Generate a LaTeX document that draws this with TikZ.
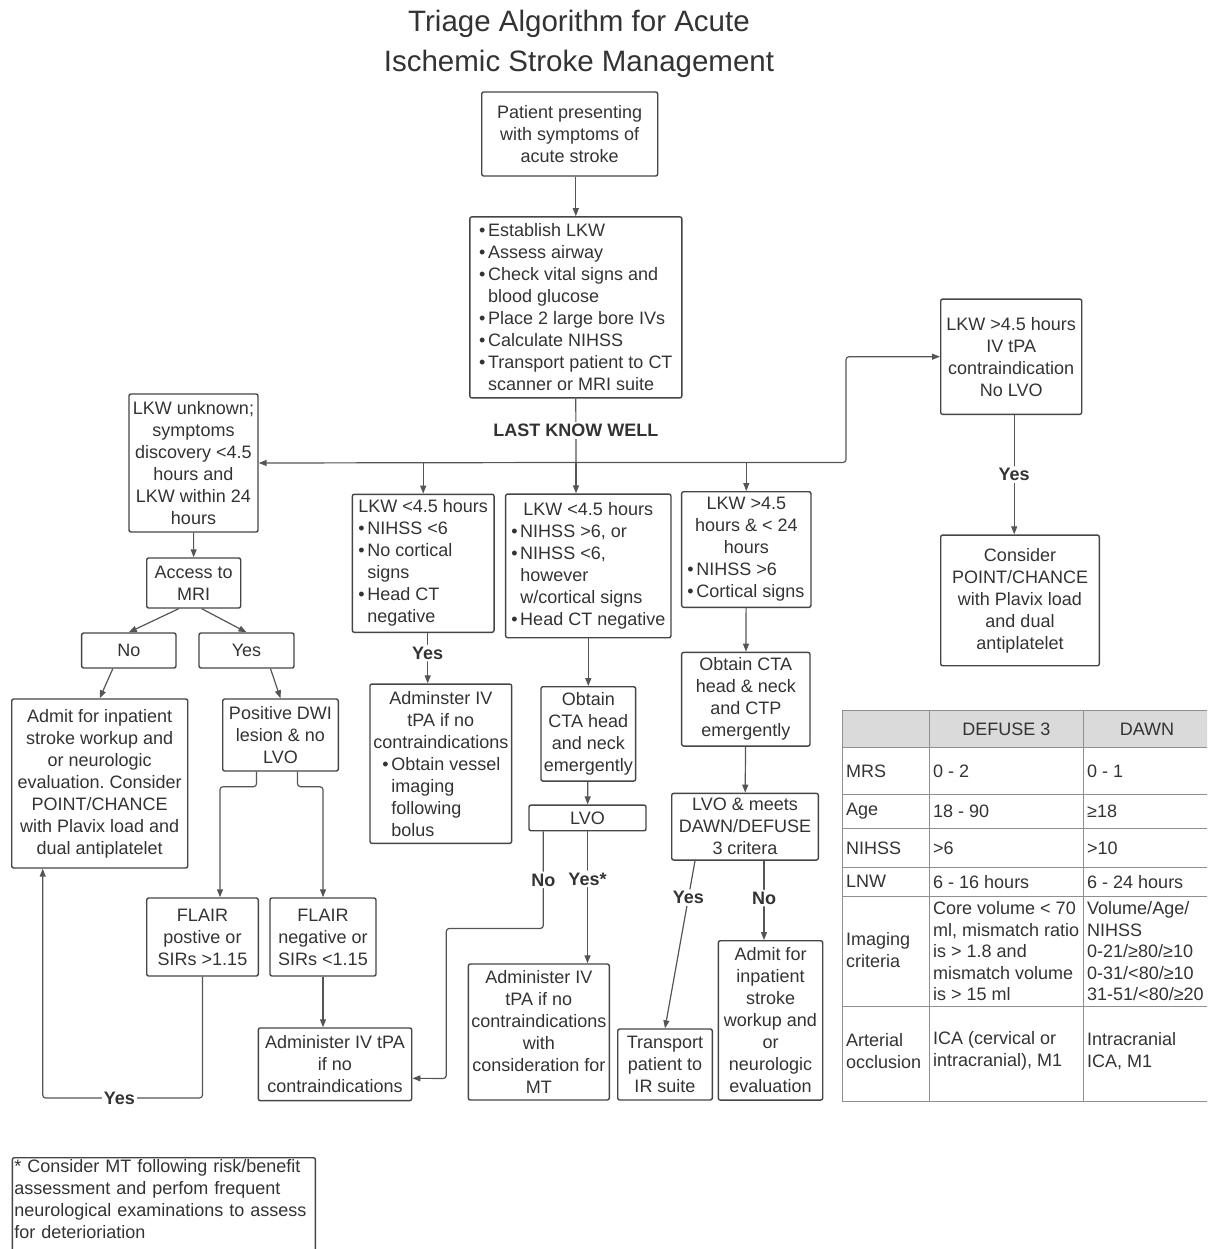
\documentclass[tikz,border=0pt]{standalone}
\usepackage{fontspec}
\setmainfont{Liberation Sans}
\usetikzlibrary{arrows.meta}
\definecolor{ink}{HTML}{333333}
\definecolor{edge}{HTML}{454545}
\definecolor{wire}{HTML}{555555}
\definecolor{rule}{HTML}{8F8F8F}
\definecolor{head}{HTML}{DADADA}
\newcommand{\bul}{\makebox[9pt][l]{\textbullet}}
\newcommand{\ind}{\hspace*{9pt}}
\frenchspacing

\begin{document}
\begin{tikzpicture}[x=1pt,y=-1pt]
    \tikzstyle{every node}+=[inner sep=0pt, text=ink, font=\fontsize{18}{22}\selectfont]
    \tikzstyle{box}=[draw=edge, line width=1.4pt, rounded corners=2pt, align=center]
    \tikzstyle{arr}=[draw=wire, line width=1.2pt, rounded corners=3pt, -{Triangle[length=8pt,width=6pt]}]
    \tikzstyle{lbl}=[fill=white, inner sep=2pt, font=\fontsize{18}{22}\selectfont\bfseries]
    \tikzstyle{cell}=[anchor=west, align=left, font=\fontsize{18}{21.5}\selectfont]
    \tikzstyle{rl}=[draw=rule, line width=1pt]
    \useasboundingbox (0,0) rectangle (1207,1249);
    \clip (0,0) rectangle (1207,1249);
    \node[align=center, font=\fontsize{29.5}{40}\selectfont] (title) at (579,44) {Triage Algorithm for Acute\\Ischemic Stroke Management};
    \node[box, minimum width=176pt, minimum height=84pt] (patient) at (569.7,134) {Patient presenting\\with symptoms of\\acute stroke};
    \node[box, align=left, minimum width=212pt, minimum height=181pt] (assess) at (575.8,307.4) {\bul Establish LKW\\\bul Assess airway\\\bul Check vital signs and\\\ind blood glucose\\\bul Place 2 large bore IVs\\\bul Calculate NIHSS\\\bul Transport patient to CT\\\ind scanner or MRI suite};
    \node[box, minimum width=129pt, minimum height=138pt] (unknown) at (193.5,463) {LKW unknown;\\symptoms\\discovery <4.5\\hours and\\LKW within 24\\hours};
    \node[box, minimum width=94pt, minimum height=50pt] (mri) at (193.7,583) {Access to\\MRI};
    \node[box, minimum width=94.3pt, minimum height=35pt] (no) at (128.8,650.5) {No};
    \node[box, minimum width=95pt, minimum height=35pt] (yes) at (246.5,650.5) {Yes};
    \node[box, minimum width=176pt, minimum height=169pt] (admitL) at (99.7,783.5) {Admit for inpatient\\stroke workup and\\or neurologic\\evaluation. Consider\\POINT/CHANCE\\with Plavix load and\\dual antiplatelet};
    \node[box, minimum width=115.6pt, minimum height=72pt] (dwi) at (280.5,735) {Positive DWI\\lesion \& no\\LVO};
    \node[box, minimum width=111.6pt, minimum height=78pt] (flairpos) at (202.5,937) {FLAIR\\postive or\\SIRs >1.15};
    \node[box, minimum width=106pt, minimum height=78pt] (flairneg) at (323,937) {FLAIR\\negative or\\SIRs <1.15};
    \node[box, minimum width=153.4pt, minimum height=72.7pt] (tpaL) at (335,1064.3) {Administer IV tPA\\if no\\contraindications};
    \node[box, align=left, minimum width=141.7pt, minimum height=138pt] (lkwA) at (423.2,563.3) {LKW <4.5 hours\\\bul NIHSS <6\\\bul No cortical\\\ind signs\\\bul Head CT\\\ind negative};
    \node[box, minimum width=141.7pt, minimum height=159.3pt] (tpaA) at (440.8,763.7) {Adminster IV\\tPA if no\\contraindications\\\makebox[135pt][l]{\hspace*{9pt}\bul Obtain vessel}\\\makebox[135pt][l]{\hspace*{18pt}imaging}\\\makebox[135pt][l]{\hspace*{18pt}following}\\\makebox[135pt][l]{\hspace*{18pt}bolus}};
    \node[box, align=left, minimum width=165.3pt, minimum height=143.7pt] (lkwB) at (588.3,565.9) {\makebox[154pt]{LKW <4.5 hours}\\\bul NIHSS >6, or\\\bul NIHSS <6,\\\ind however\\\ind w/cortical signs\\\bul Head CT negative};
    \node[box, minimum width=94.7pt, minimum height=94.3pt] (ctaB) at (588.3,733.9) {Obtain\\CTA head\\and neck\\emergently};
    \node[box, minimum width=117pt, minimum height=25.7pt] (lvoB) at (587.5,817.9) {LVO};
    \node[box, minimum width=141pt, minimum height=136pt] (tpaB) at (538.8,1032) {Administer IV\\tPA if no\\contraindications\\with\\consideration for\\MT};
    \node[box, align=left, minimum width=129.3pt, minimum height=115.6pt] (lkwC) at (746.3,549.5) {\makebox[118pt]{LKW >4.5}\\\makebox[118pt]{hours \& < 24}\\\makebox[118pt]{hours}\\\bul NIHSS >6\\\bul Cortical signs};
    \node[box, minimum width=128.3pt, minimum height=93.7pt] (ctaC) at (745.8,699.2) {Obtain CTA\\head \& neck\\and CTP\\emergently};
    \node[box, minimum width=146.6pt, minimum height=66.7pt] (lvoC) at (745,826.7) {LVO \& meets\\DAWN/DEFUSE\\3 critera};
    \node[box, minimum width=94.6pt, minimum height=71pt] (irC) at (665,1064.5) {Transport\\patient to\\IR suite};
    \node[box, minimum width=104.4pt, minimum height=159.3pt] (admitC) at (770.5,1020.4) {Admit for\\inpatient\\stroke\\workup and\\or\\neurologic\\evaluation};
    \node[box, minimum width=141pt, minimum height=115.3pt] (late) at (1011.2,356.7) {LKW >4.5 hours\\IV tPA\\contraindication\\No LVO};
    \node[box, minimum width=158.6pt, minimum height=130.7pt] (point) at (1020,600.4) {Consider\\POINT/CHANCE\\with Plavix load\\and dual\\antiplatelet};
    \node[box, anchor=north west, align=left, text width=299pt, inner xsep=2pt, inner ysep=2pt] (note) at (11.7,1157) {* Consider MT following risk/benefit\\assessment and perfom frequent\\neurological examinations to assess\\for deterioriation\\\mbox{}};
    \coordinate (split) at (576,462.5);
    \coordinate (yturn) at (42.7,1098);
    \draw[arr] (assess.north |- patient.south) -- (assess.north);
    \draw[draw=wire, line width=1.2pt] (assess.south) -- node[lbl]{LAST KNOW WELL} (split);
    \draw[arr] (split) -- (unknown.east);
    \draw[arr] (lkwA.north |- split) -- (lkwA.north);
    \draw[arr] (split) -- (split |- lkwB.north);
    \draw[arr] (lkwC.north |- split) -- (lkwC.north);
    \draw[arr] (split) -- ++(270,0) |- (late.west);
    \draw[arr] (unknown) -- (mri);
    \draw[arr] ([xshift=-15pt]mri.south) -- (no.north);
    \draw[arr] ([xshift=8pt]mri.south) -- (yes.north);
    \draw[arr] ([xshift=-16pt]no.south) -- (admitL.north);
    \draw[arr] ([xshift=24pt]yes.south) -- (dwi.north);
    \draw[arr] ([xshift=-24pt]dwi.south) -- ++(0,15) -| ([xshift=17.5pt]flairpos.north);
    \draw[arr] ([xshift=17pt]dwi.south) -- ++(0,15) -| (flairneg.north);
    \draw[arr] (flairneg.south) -- (flairneg.south |- tpaL.north);
    \draw[arr] (flairpos.south) |- node[lbl, pos=0.76]{Yes} (yturn) -- (yturn |- admitL.south);
    \draw[arr] ([xshift=4.5pt]lkwA.south) -- node[lbl, pos=0.4]{Yes} ([xshift=4.5pt]lkwA.south |- tpaA.north);
    \draw[arr] (lkwB) -- (ctaB);
    \draw[arr] (ctaB) -- (lvoB);
    \draw[arr] ([xshift=-44.2pt]lvoB.south) -- node[lbl]{No} ++(0,97) -| ++(-97,150) -- ([yshift=-14pt]tpaL.east);
    \draw[arr] (lvoB.south) -- node[lbl, pos=0.36]{Yes*} (lvoB.south |- tpaB.north);
    \draw[arr] (lkwC) -- (ctaC);
    \draw[arr] (ctaC) -- (lvoC);
    \draw[arr] ([xshift=-50pt]lvoC.south) -- node[lbl, pos=0.22]{Yes} (irC.north);
    \draw[arr] ([xshift=19pt]lvoC.south) -- node[lbl, pos=0.47]{No} ([xshift=19pt]lvoC.south |- admitC.north);
    \draw[arr] ([xshift=3pt]late.south) -- node[lbl]{Yes} ([xshift=3pt]late.south |- point.north);
    \fill[head] (842.3,710.7) rectangle (1212,747.7);
    \draw[rl] (842.3,710.7) rectangle (1212,1101.7);
    \draw[rl] (842.3,747.7) -- (1212,747.7);
    \draw[rl] (842.3,794.3) -- (1212,794.3);
    \draw[rl] (842.3,828.3) -- (1212,828.3);
    \draw[rl] (842.3,867.3) -- (1212,867.3);
    \draw[rl] (842.3,896) -- (1212,896);
    \draw[rl] (842.3,1006.7) -- (1212,1006.7);
    \draw[rl] (929.3,710.7) -- (929.3,1101.7);
    \draw[rl] (1083.3,710.7) -- (1083.3,1101.7);
    \node (hdA) at (1006.3,729.2) {DEFUSE 3};
    \node (hdB) at (1147,729.2) {DAWN};
    \node[cell] (mrs) at (846,771) {MRS};
    \node[cell] (mrsA) at (933,771) {0 - 2};
    \node[cell] (mrsB) at (1087,771) {0 - 1};
    \node[cell] (age) at (846,811.3) {Age};
    \node[cell] (ageA) at (933,811.3) {18 - 90};
    \node[cell] (ageB) at (1087,811.3) {≥18};
    \node[cell] (nih) at (846,847.8) {NIHSS};
    \node[cell] (nihA) at (933,847.8) {>6};
    \node[cell] (nihB) at (1087,847.8) {>10};
    \node[cell] (lnw) at (846,881.7) {LNW};
    \node[cell] (lnwA) at (933,881.7) {6 - 16 hours};
    \node[cell] (lnwB) at (1087,881.7) {6 - 24 hours};
    \node[cell] (img) at (846,950) {Imaging\\criteria};
    \node[cell] (imgA) at (933,951.3) {Core volume < 70\\ml, mismatch ratio\\is > 1.8 and\\mismatch volume\\is > 15 ml};
    \node[cell] (imgB) at (1087,951.3) {Volume/Age/\\NIHSS\\0-21/≥80/≥10\\0-31/<80/≥10\\31-51/<80/≥20};
    \node[cell] (art) at (846,1051) {Arterial\\occlusion};
    \node[cell] (artA) at (933,1051) {ICA (cervical or\\intracranial), M1};
    \node[cell] (artB) at (1087,1051) {Intracranial\\ICA, M1};
\end{tikzpicture}
\end{document}
